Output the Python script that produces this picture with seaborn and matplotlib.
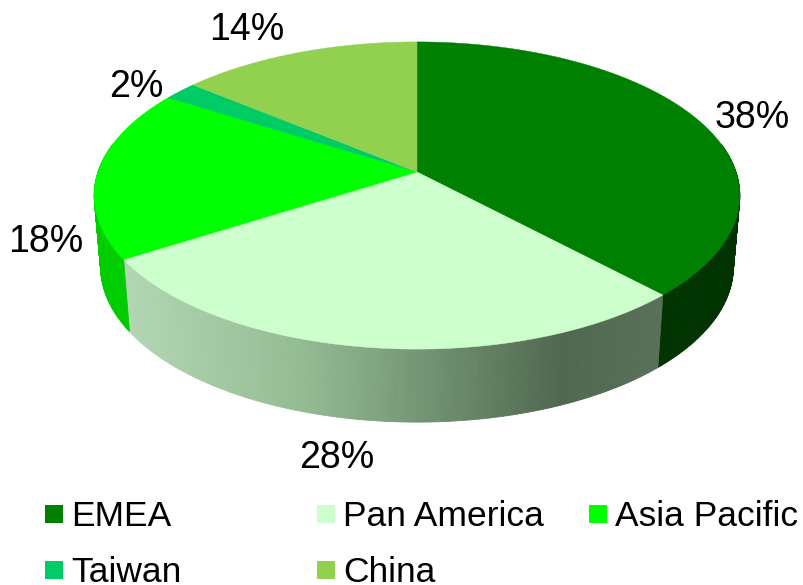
import numpy as np
import pandas as pd
import seaborn as sns
from matplotlib import pyplot as plt
from matplotlib.colors import LinearSegmentedColormap

sns.set_theme(style="white")
plt.rcParams['font.family'] = ['Liberation Sans', 'DejaVu Sans']

regions = ['EMEA', 'Pan America', 'Asia Pacific', 'Taiwan', 'China']
shares = [38, 28, 18, 2, 14]
top_colors = ['#008000', '#CCFFCC', '#00FF00', '#00CC66', '#92D050']
wall_colors = ['#003300', None, '#00CC00', '#009950', '#6FA03C']

label_x = [752, 337, 46, 136, 247]
label_y = [118, 458, 242, 87, 30]
legend_x = [54, 326, 598, 54, 326]
legend_y = [514, 514, 514, 570, 570]

# projected position of the pie centre, in image pixels
cx, cy = 417, 172
persp = 0.153
rx, ry = 319, 150
depth = 71
wall_shrink = 0.98

pan_wall = LinearSegmentedColormap.from_list(
    'pan', [(0, '#B2D6B2'), (0.33, '#94BC94'), (0.82, '#4F684F'), (1, '#586F58')])


def top_xy(theta):
    d = 1 + persp * np.sin(theta)
    return cx + rx * np.cos(theta) / d, cy - ry * np.sin(theta) / d


def bottom_xy(theta):
    x, y = top_xy(theta)
    return cx + (x - cx) * wall_shrink, y + depth + 2 * np.minimum(np.sin(theta) * -1, 1)


fig = plt.figure(figsize=(8.04, 5.85), dpi=100)
ax = fig.add_axes([0, 0, 1, 1])
ax.set_xlim(0, 804)
ax.set_ylim(585, 0)
ax.axis('off')

edges = np.radians(90 - 3.6 * np.cumsum([0] + shares))

# side wall first, top face covers whatever is behind it
for i in range(len(shares)):
    a0, a1 = edges[i], edges[i + 1]
    n = max(int(abs(a1 - a0) * 120), 2)
    th = np.linspace(a0, a1, n + 1)
    th = th[np.sin(th) < 0.2]
    for t0, t1 in zip(th[:-1], th[1:]):
        x0, y0 = top_xy(t0)
        x1, y1 = top_xy(t1)
        x2, y2 = bottom_xy(t1)
        x3, y3 = bottom_xy(t0)
        if wall_colors[i] is None:
            c = pan_wall((x0 - 124) / (660 - 124))
        else:
            c = wall_colors[i]
        ax.fill([x0, x1, x2, x3], [y0, y1, y2, y3], color=c, lw=0.6, zorder=2)

for i in range(len(shares)):
    th = np.linspace(edges[i], edges[i + 1], 200)
    xs, ys = top_xy(th)
    ax.fill(np.r_[cx, xs], np.r_[cy, ys], color=top_colors[i], lw=0.3, zorder=3)

for v, x, y in zip(shares, label_x, label_y):
    ax.text(x, y, f'{v}%', fontsize=27, color='black', ha='center', va='center', zorder=5)

# legend has equal columns, so placed by hand
legend_df = pd.DataFrame({'x': legend_x, 'y': legend_y, 'region': regions})
sns.scatterplot(data=legend_df, x='x', y='y', hue='region', palette=top_colors, hue_order=regions,
                marker='s', s=169, linewidth=0, legend=False, ax=ax, clip_on=False)
for name, x, y in zip(regions, legend_x, legend_y):
    ax.text(x + 17, y - 1, name, fontsize=25.5, color='black', ha='left', va='center_baseline')

ax.set_xlabel('')
ax.set_ylabel('')
fig.savefig('out.png', dpi=100, facecolor='white')
